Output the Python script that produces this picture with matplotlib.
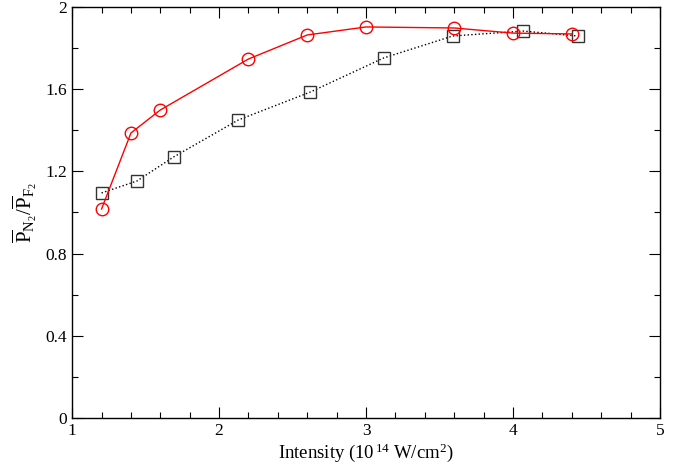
import numpy as np
import matplotlib.pyplot as plt
from matplotlib.ticker import MultipleLocator

plt.rcParams['font.family'] = ['Liberation Serif', 'DejaVu Serif']
plt.rcParams['mathtext.fontset'] = 'custom'
plt.rcParams['mathtext.rm'] = 'Liberation Serif'
plt.rcParams['mathtext.it'] = 'Liberation Serif:italic'

# red circles, solid line
x_red = [1.2, 1.4, 1.6, 2.2, 2.6, 3.0, 3.6, 4.0, 4.4]
y_red = [1.017, 1.387, 1.499, 1.747, 1.864, 1.903, 1.898, 1.873, 1.869]

# black squares, dotted line
x_blk = [1.2, 1.44, 1.69, 2.13, 2.62, 3.12, 3.59, 4.07, 4.44]
y_blk = [1.095, 1.153, 1.27, 1.45, 1.586, 1.752, 1.859, 1.883, 1.859]

fig = plt.figure(figsize=(6.81, 4.68), dpi=100)
ax = fig.add_axes([0.106, 0.107, 0.863, 0.878])

ax.plot(x_blk, y_blk, color='black', linestyle=':', linewidth=1.0,
        marker='s', markersize=8, markerfacecolor='none', markeredgecolor='#333333',
        markeredgewidth=1.0)
ax.plot(x_red, y_red, color='red', linestyle='-', linewidth=1.0,
        marker='o', markersize=9, markerfacecolor='none', markeredgecolor='red',
        markeredgewidth=1.0)

ax.set_xlim(1, 5)
ax.set_ylim(0, 2)
ax.xaxis.set_major_locator(MultipleLocator(1))
ax.xaxis.set_minor_locator(MultipleLocator(0.2))
ax.yaxis.set_major_locator(MultipleLocator(0.4))
ax.yaxis.set_minor_locator(MultipleLocator(0.2))
ax.yaxis.set_major_formatter(plt.FuncFormatter(lambda v, p: '%g' % round(v, 1)))

ax.tick_params(which='both', direction='in', top=True, right=True, labelsize=12.5)
ax.tick_params(which='major', length=8, width=0.8)
ax.tick_params(which='minor', length=4, width=0.8)
for s in ax.spines.values():
    s.set_linewidth(1.0)

ax.set_xlabel(r'Intensity (10$^{\,14}$ W/cm$^{2}$)', fontsize=13.5, labelpad=2)
ax.set_ylabel(r'$\overline{\mathrm{P}}_{\mathrm{N}_2}/\overline{\mathrm{P}}_{\mathrm{F}_2}$',
              fontsize=15, labelpad=5)

fig.savefig('out.png', dpi=100)
